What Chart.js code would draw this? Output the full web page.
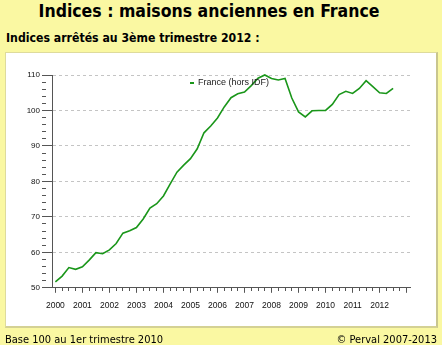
<!DOCTYPE html>
<html>
<head>
<meta charset="utf-8">
<script src="https://cdn.jsdelivr.net/npm/chart.js@4/dist/chart.umd.min.js"></script>
<style>
  html, body { margin: 0; padding: 0; }
  body { width: 442px; height: 345px; background: #faf8a2; position: relative; overflow: hidden;
         font-family: 'DejaVu Sans Condensed', 'DejaVu Sans', sans-serif; font-stretch: condensed; color: #000; }
  .txt { position: absolute; white-space: nowrap; line-height: 1; }
  #title { left: 0; width: 418px; text-align: center; top: 3px; font-size: 17.5px; font-weight: bold; }
  #subtitle { left: 6px; top: 32px; font-size: 12.2px; font-weight: bold; }
  #panel { position: absolute; left: 5px; top: 52px; width: 430px; height: 273px; background: #fff;
           border: 1px solid #dedb9c; border-right: 2px solid #c9c68e; border-bottom: 2px solid #d4d194; }
  #footLeft { left: 5px; top: 334px; font-size: 11px; }
  #footRight { right: 5px; top: 334px; font-size: 11px; }
  #legend { position: absolute; left: 190px; top: 77px; font: 9px 'Liberation Sans', Arial, sans-serif; color: #222; }
  #legend i { display: inline-block; width: 4px; height: 2px; background: #1a961a; vertical-align: middle; margin-right: 4px; }
  canvas { position: absolute; left: 0; top: 0; }
</style>
</head>
<body>
<div class="txt" id="title">Indices : maisons anciennes en France</div>
<div class="txt" id="subtitle">Indices arrêtés au 3ème trimestre 2012 :</div>
<div id="panel"></div>
<canvas id="chart" width="442" height="345"></canvas>
<div id="legend"><i></i>France (hors IDF)</div>
<div class="txt" id="footLeft">Base 100 au 1er trimestre 2010</div>
<div class="txt" id="footRight">© Perval 2007-2013</div>
<script>
// Tick labels (one per year) and quarter names
const years = ['2000', '2001', '2002', '2003', '2004', '2005', '2006',
               '2007', '2008', '2009', '2010', '2011', '2012', '2013'];
const quarterNames = ['T1', 'T2', 'T3', 'T4'];

// Index values, 2000 T1 .. 2012 T3 (base 100 = 2010 T1)
const franceHorsIdf = [
    51.7, 53.3, 55.7, 55.2,
    55.9, 57.8, 59.9, 59.6,
    60.7, 62.5, 65.4, 66.1,
    67.0, 69.4, 72.5, 73.7,
    75.9, 79.3, 82.6, 84.6,
    86.4, 89.2, 93.7, 95.6,
    97.9, 101.0, 103.6, 104.7,
    105.2, 107.0, 109.1, 110.0,
    109.0, 108.6, 109.0, 103.5,
    99.6, 98.2, 99.9, 100.0,
    100.0, 101.7, 104.5, 105.4,
    104.8, 106.2, 108.4, 106.7,
    105.0, 104.8, 106.2
];

// Quarter categories, up to 2013 T1 (end of the axis)
const quarters = years.flatMap(y => quarterNames.map(q => y + ' ' + q)).slice(0, 53);

const axisColor = '#555';
const gridColor = '#c4c4c4';

const ctx = document.getElementById('chart').getContext('2d');
new Chart(ctx, {
    type: 'line',
    data: {
        labels: quarters,
        datasets: [{
            label: 'France (hors IDF)',
            data: franceHorsIdf,
            borderColor: '#1a961a',
            borderWidth: 1.6,
            pointRadius: 0,
            tension: 0,
            fill: false,
            clip: false
        }]
    },
    options: {
        responsive: false,
        animation: false,
        layout: {
            padding: { left: 0, right: 32, top: 75, bottom: 26 }
        },
        plugins: {
            legend: { display: false },
            tooltip: { enabled: false }
        },
        scales: {
            x: {
                type: 'category',
                offset: true,
                grid: {
                    drawOnChartArea: false,
                    offset: false,
                    tickLength: 5,
                    tickColor: axisColor,
                    tickBorderDash: function(c) { return c.index % 4 === 0 ? [] : [3, 10]; }
                },
                border: { color: axisColor, width: 1 },
                ticks: {
                    autoSkip: false,
                    maxRotation: 0,
                    padding: 8,
                    color: '#111',
                    font: { family: "'Liberation Sans', Arial, sans-serif", size: 8.5 },
                    callback: function(value, index) {
                        const label = this.getLabelForValue(value);
                        return (index % 4 === 0 && index < 52) ? label.slice(0, 4) : '';
                    }
                }
            },
            y: {
                min: 50,
                max: 110,
                afterFit: function(scale) { scale.width = 52; },
                grid: {
                    color: function(c) { return c.tick && c.tick.value % 10 === 0 ? gridColor : 'rgba(0,0,0,0)'; },
                    tickLength: 10,
                    tickColor: axisColor,
                    tickBorderDash: function(c) { return c.tick && c.tick.value % 10 === 0 ? [] : [4, 20]; }
                },
                border: { color: axisColor, width: 1, dash: [3, 3] },
                ticks: {
                    autoSkip: false,
                    stepSize: 2,
                    padding: 2,
                    color: '#111',
                    font: { family: "'Liberation Sans', Arial, sans-serif", size: 8 },
                    callback: function(value) { return value % 10 === 0 ? value : ''; }
                }
            }
        }
    }
});
</script>
</body>
</html>
